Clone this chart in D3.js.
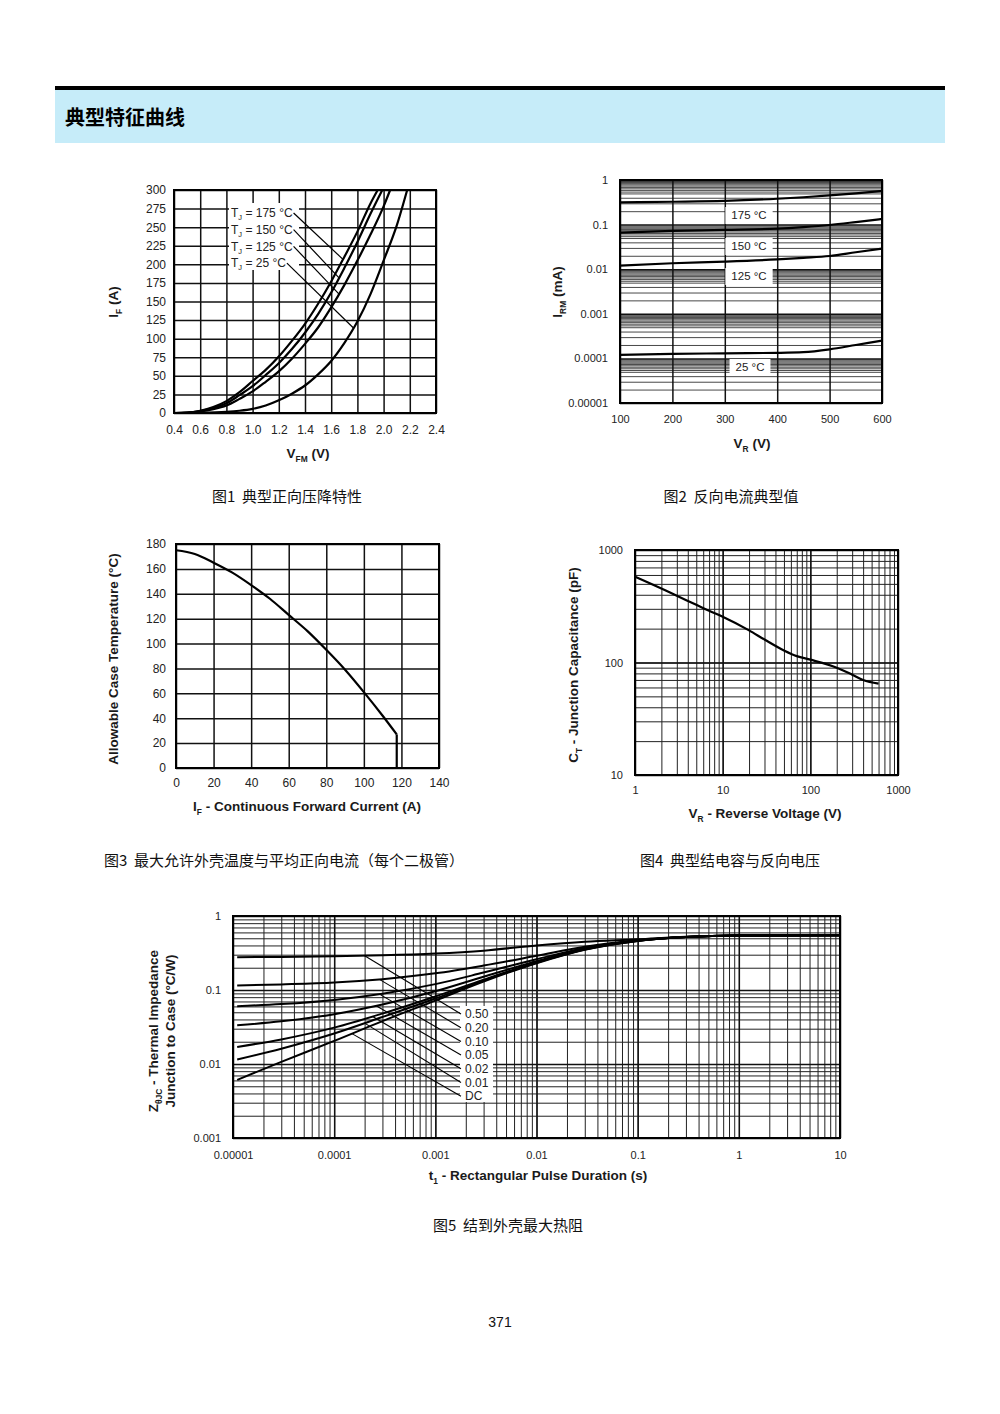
<!DOCTYPE html>
<html><head><meta charset="utf-8">
<script src="https://cdn.jsdelivr.net/npm/d3@7/dist/d3.min.js"></script>
<style>
html,body{margin:0;padding:0;background:#fff;}
svg{display:block;}
text{white-space:pre;}
</style></head><body>
<svg id="page" width="1000" height="1414"></svg>
<script>
// ===================== DATA =====================
// Fig.1  I_F vs V_FM
const fig1Labels = ["175 °C", "150 °C", "125 °C", "25 °C"];
const fig1V175 = [0.4,0.5,0.6,0.7,0.8,0.9,1.0,1.1,1.2,1.3,1.4,1.5,1.6,1.7,1.8,1.9,1.955];
const fig1I175 = [0,0.5,3,8,16,28,43,58,76,97,120,147,177,210,244,282,300];
const fig1V150 = [0.4,0.5,0.6,0.7,0.8,0.9,1.0,1.1,1.2,1.3,1.4,1.5,1.6,1.7,1.8,1.9,1.99];
const fig1I150 = [0,0.4,2.5,6.5,13,24,36,51,67,86,108,133,162,195,230,268,300];
const fig1V125 = [0.4,0.5,0.6,0.7,0.8,0.9,1.0,1.1,1.2,1.3,1.4,1.5,1.6,1.7,1.8,1.9,2.0,2.05];
const fig1I125 = [0,0.3,2,5,10,19,29,42,56,73,93,115,142,172,205,240,278,300];
const fig1V25  = [0.4,0.6,0.8,0.9,1.0,1.1,1.2,1.3,1.4,1.5,1.6,1.7,1.8,1.9,2.0,2.1,2.18];
const fig1I25  = [0,0.3,1.5,3,5.5,10,17,26,37,52,70,94,123,160,205,252,300];
const fig1LeaderV = [1.69, 1.66, 1.66, 1.77];
const fig1XTicks = [0.4,0.6,0.8,1.0,1.2,1.4,1.6,1.8,2.0,2.2,2.4];
const fig1XTickLabels = ["0.4","0.6","0.8","1.0","1.2","1.4","1.6","1.8","2.0","2.2","2.4"];
const fig1YTicks = [0,25,50,75,100,125,150,175,200,225,250,275,300];
const fig1YTickLabels = ["0","25","50","75","100","125","150","175","200","225","250","275","300"];

// Fig.2  I_RM vs V_R
const fig2Labels = ["175 °C", "150 °C", "125 °C", "25 °C"];
const fig2VR   = [100,200,300,400,450,500,550,600];
const fig2I175 = [0.315,0.325,0.34,0.38,0.41,0.45,0.5,0.57];
const fig2I150 = [0.066,0.072,0.076,0.081,0.088,0.098,0.114,0.134];
const fig2I125 = [0.012,0.0136,0.0148,0.0166,0.018,0.0198,0.024,0.029];
const fig2I25  = [1.2e-4,1.26e-4,1.3e-4,1.33e-4,1.38e-4,1.6e-4,2.0e-4,2.5e-4];
const fig2XTicks = [100,200,300,400,500,600];
const fig2XTickLabels = ["100","200","300","400","500","600"];
const fig2YTicks = [1e-5,1e-4,1e-3,1e-2,1e-1,1];
const fig2YTickLabels = ["0.00001","0.0001","0.001","0.01","0.1","1"];

// Fig.3  Allowable case temperature vs I_F
const fig3IF = [0,10,20,30,40,50,60,70,80,90,100,110,117.5];
const fig3TC = [175,172,165,157,147,136,123,110,95,79,61,42,27];
const fig3DropIF = [117.5,117.5];
const fig3DropTC = [27,0];
const fig3XTicks = [0,20,40,60,80,100,120,140];
const fig3XTickLabels = ["0","20","40","60","80","100","120","140"];
const fig3YTicks = [0,20,40,60,80,100,120,140,160,180];
const fig3YTickLabels = ["0","20","40","60","80","100","120","140","160","180"];

// Fig.4  C_T vs V_R
const fig4VR = [1,2,3,5,7,10,20,30,50,70,100,200,300,400,600];
const fig4CT = [580,455,392,326,288,255,193,160,128,114,106,90,78,70,65];
const fig4XTicks = [1,10,100,1000];
const fig4XTickLabels = ["1","10","100","1000"];
const fig4YTicks = [10,100,1000];
const fig4YTickLabels = ["10","100","1000"];

// Fig.5  Z_thJC vs t1
const fig5Labels = ["0.50","0.20","0.10","0.05","0.02","0.01","DC"];
const fig5T   = [1.1e-5,3e-5,1e-4,3e-4,1e-3,3e-3,1e-2,3e-2,0.1,0.3,1,10];
const fig5D50 = [0.278,0.28,0.285,0.294,0.311,0.34,0.40,0.45,0.485,0.525,0.545,0.55];
const fig5D20 = [0.115,0.119,0.126,0.14,0.168,0.214,0.29,0.385,0.47,0.522,0.545,0.55];
const fig5D10 = [0.0605,0.0646,0.0735,0.089,0.12,0.172,0.26,0.37,0.468,0.52,0.545,0.55];
const fig5D05 = [0.0333,0.0377,0.047,0.0636,0.096,0.151,0.245,0.36,0.465,0.52,0.545,0.55];
const fig5D02 = [0.017,0.0215,0.031,0.048,0.0816,0.138,0.236,0.354,0.462,0.52,0.545,0.55];
const fig5D01 = [0.0115,0.0161,0.0258,0.0431,0.0768,0.134,0.233,0.352,0.461,0.52,0.545,0.55];
const fig5DC  = [0.0061,0.0107,0.0205,0.038,0.072,0.13,0.23,0.35,0.46,0.52,0.545,0.55];
const fig5LeaderT = [2e-4,2.8e-4,2.8e-4,2.6e-4,2.4e-4,2e-4,1.5e-4];
const fig5XTicks = [1e-5,1e-4,1e-3,1e-2,1e-1,1,10];
const fig5XTickLabels = ["0.00001","0.0001","0.001","0.01","0.1","1","10"];
const fig5YTicks = [0.001,0.01,0.1,1];
const fig5YTickLabels = ["0.001","0.01","0.1","1"];

// ===================== DRAWING =====================
const FONT = '"Liberation Sans", Arial, Helvetica, sans-serif';
const CJK = '"Noto Sans CJK SC", "Noto Sans", sans-serif';
const TS = 13.5; // axis title size
const svg = d3.select("#page");
svg.append("rect").attr("width",1000).attr("height",1414).attr("fill","#fff");

// header
svg.append("rect").attr("x",55).attr("y",86).attr("width",890).attr("height",4).attr("fill","#000");
svg.append("rect").attr("x",55).attr("y",90).attr("width",890).attr("height",53).attr("fill","#c6ecf9");
svg.append("text").attr("x",65).attr("y",125).attr("font-family",CJK).attr("font-weight","bold")
  .attr("font-size",20).attr("fill","#000").text("典型特征曲线");

function gridLines(g,x,y,xVals,yVals,stroke,w){
  const [xa,xb]=x.range(), [yb,ya]=y.range();
  if(xVals) g.append("g").attr("transform",`translate(0,${ya})`)
    .call(d3.axisBottom(x).tickValues(xVals).tickSize(yb-ya).tickFormat(""))
    .call(s=>{s.select(".domain").remove(); s.selectAll("text").remove(); s.selectAll("line").attr("stroke",stroke).attr("stroke-width",w);});
  if(yVals) g.append("g").attr("transform",`translate(${xa},0)`)
    .call(d3.axisRight(y).tickValues(yVals).tickSize(xb-xa).tickFormat(""))
    .call(s=>{s.select(".domain").remove(); s.selectAll("text").remove(); s.selectAll("line").attr("stroke",stroke).attr("stroke-width",w);});
}
function frame(g,x,y){
  const [xa,xb]=x.range(), [yb,ya]=y.range();
  g.append("rect").attr("x",xa).attr("y",ya).attr("width",xb-xa).attr("height",yb-ya)
    .attr("fill","none").attr("stroke","#000").attr("stroke-width",2);
}
function tickLabels(g,x,y,xVals,xLab,yVals,yLab,xPad,yPad,fs){
  const [xa,xb]=x.range(), [yb,ya]=y.range();
  const ax=g.append("g").attr("transform",`translate(0,${yb})`)
    .call(d3.axisBottom(x).tickValues(xVals).tickFormat((d,i)=>xLab[i]).tickSize(0).tickPadding(xPad));
  const ay=g.append("g").attr("transform",`translate(${xa},0)`)
    .call(d3.axisLeft(y).tickValues(yVals).tickFormat((d,i)=>yLab[i]).tickSize(0).tickPadding(yPad));
  [ax,ay].forEach(a=>{a.select(".domain").remove(); a.attr("font-family",FONT).attr("font-size",fs||11);
    a.selectAll("text").attr("fill","#222");});
}
function curve(g,x,y,xs,ys,w,type){
  g.append("path").datum(xs.map((v,i)=>[v,ys[i]]))
    .attr("d",d3.line().x(d=>x(d[0])).y(d=>y(d[1])).curve(type||d3.curveMonotoneX))
    .attr("fill","none").attr("stroke","#000").attr("stroke-width",w||2.2).attr("stroke-linejoin","round");
}
function title(g,x,y,parts,rot,size){
  size=size||TS;
  const t=g.append("text").attr("x",x).attr("y",y).attr("text-anchor","middle")
    .attr("font-family",FONT).attr("font-weight","bold").attr("font-size",size).attr("fill","#1a1a1a");
  if(rot) t.attr("transform",`rotate(-90,${x},${y})`);
  let prevSub=false;
  parts.forEach(p=>{
    const s=t.append("tspan").text(p[0]);
    if(p[1]){ s.attr("dy",3.5).attr("font-size",size*0.62); prevSub=true; }
    else if(prevSub){ s.attr("dy",-3.5); prevSub=false; }
  });
  return t;
}
function interpLin(xs,ys,v){
  for(let i=1;i<xs.length;i++) if(v<=xs[i]){const f=(v-xs[i-1])/(xs[i]-xs[i-1]); return ys[i-1]+f*(ys[i]-ys[i-1]);}
  return ys[ys.length-1];
}
function interpLog(xs,ys,v){
  for(let i=1;i<xs.length;i++) if(v<=xs[i]){
    const f=(Math.log(v)-Math.log(xs[i-1]))/(Math.log(xs[i])-Math.log(xs[i-1]));
    return Math.exp(Math.log(ys[i-1])+f*(Math.log(ys[i])-Math.log(ys[i-1])));}
  return ys[ys.length-1];
}
function caption(x,y,txt,anchor){
  svg.append("text").attr("x",x).attr("y",y).attr("text-anchor",anchor||"middle")
    .attr("font-family",CJK).attr("font-size",15).attr("fill","#111").text(txt);
}

// ---------- Fig 1 ----------
{
  const g=svg.append("g");
  const x=d3.scaleLinear().domain([0.4,2.4]).range([174,436]);
  const y=d3.scaleLinear().domain([0,300]).range([413,190]);
  gridLines(g,x,y,fig1XTicks,fig1YTicks,"#111",1.5);
  g.append("rect").attr("x",229).attr("y",203).attr("width",70).attr("height",67).attr("fill","#fff");
  const curvesV=[fig1V175,fig1V150,fig1V125,fig1V25], curvesI=[fig1I175,fig1I150,fig1I125,fig1I25];
  curvesV.forEach((v,i)=>curve(g,x,y,v,curvesI[i],2.2));
  fig1Labels.forEach((lab,i)=>{
    const cy=213+i*16.7;
    const t=g.append("text").attr("x",231).attr("y",cy+4.3).attr("font-family",FONT).attr("font-size",12).attr("fill","#222");
    t.append("tspan").text("T");
    t.append("tspan").attr("dy",3).attr("font-size",7.5).text("J");
    t.append("tspan").attr("dy",-3).text(" = "+lab);
    const w=t.node().getComputedTextLength();
    const va=fig1LeaderV[i];
    g.append("line").attr("x1",231+w+1).attr("y1",cy).attr("x2",x(va)).attr("y2",y(interpLin(curvesV[i],curvesI[i],va)))
      .attr("stroke","#000").attr("stroke-width",1.2);
  });
  frame(g,x,y);
  tickLabels(g,x,y,fig1XTicks,fig1XTickLabels,fig1YTicks,fig1YTickLabels,12.5,8,12);
  title(g,308,458,[["V"],["FM",true],[" (V)"]]);
  title(g,118,302,[["I"],["F",true],[" (A)"]],true);
  caption(287,501.5,"图1\u00a0\u00a0典型正向压降特性");
}

// ---------- Fig 2 ----------
{
  const g=svg.append("g");
  const x=d3.scaleLinear().domain([100,600]).range([620,882]);
  const y=d3.scaleLog().domain([1e-5,1]).range([403,180]);
  const ks=[2,3,4,5,5.5,6,6.5,7,7.5,8,8.5,9,9.5];
  const dense=[]; for(let e=-5;e<0;e++) ks.forEach(k=>dense.push(k*Math.pow(10,e)));
  gridLines(g,x,y,null,dense,"#333",0.9);
  gridLines(g,x,y,fig2XTicks,fig2YTicks,"#111",1.5);
  const boxes=[[749,215],[749,246],[749,276],[750,367]];
  const curves=[fig2I175,fig2I150,fig2I125,fig2I25];
  fig2Labels.forEach((lab,i)=>{
    const [cx,cy]=boxes[i];
    const lg=g.append("g");
    const r=lg.append("rect").attr("fill","#fff");
    const t=lg.append("text").attr("x",cx).attr("y",cy+4).attr("text-anchor","middle")
      .attr("font-family",FONT).attr("font-size",11.5).attr("fill","#222").text(lab);
    const w=t.node().getComputedTextLength();
    r.attr("x",cx-w/2-6).attr("y",cy-8).attr("width",w+12).attr("height",17);
  });
  curves.forEach(c=>curve(g,x,y,fig2VR,c,2.2));
  frame(g,x,y);
  tickLabels(g,x,y,fig2XTicks,fig2XTickLabels,fig2YTicks,fig2YTickLabels,12,12,11);
  title(g,752,448,[["V"],["R",true],[" (V)"]]);
  title(g,562,292,[["I"],["RM",true],[" (mA)"]],true);
  caption(731,501.5,"图2\u00a0\u00a0反向电流典型值");
}

// ---------- Fig 3 ----------
{
  const g=svg.append("g");
  const x=d3.scaleLinear().domain([0,140]).range([176,439]);
  const y=d3.scaleLinear().domain([0,180]).range([768,544]);
  gridLines(g,x,y,fig3XTicks,fig3YTicks,"#111",1.5);
  curve(g,x,y,fig3IF,fig3TC,2.2);
  curve(g,x,y,fig3DropIF,fig3DropTC,2.2,d3.curveLinear);
  frame(g,x,y);
  tickLabels(g,x,y,fig3XTicks,fig3XTickLabels,fig3YTicks,fig3YTickLabels,10.5,10,12);
  title(g,307,811,[["I"],["F",true],[" - Continuous Forward Current (A)"]]);
  title(g,118,659,[["Allowable Case Temperature (°C)"]],true);
  caption(104,865.5,"图3\u00a0\u00a0最大允许外壳温度与平均正向电流（每个二极管）","start");
}

// ---------- Fig 4 ----------
{
  const g=svg.append("g");
  const x=d3.scaleLog().domain([1,1000]).range([635,898]);
  const y=d3.scaleLog().domain([10,1000]).range([775,550]);
  gridLines(g,x,y,x.ticks(),y.ticks(),"#222",1);
  gridLines(g,x,y,fig4XTicks,fig4YTicks,"#111",1.5);
  curve(g,x,y,fig4VR,fig4CT,2.2);
  frame(g,x,y);
  tickLabels(g,x,y,fig4XTicks,fig4XTickLabels,fig4YTicks,fig4YTickLabels,11,12,11);
  title(g,765,818,[["V"],["R",true],[" - Reverse Voltage (V)"]]);
  title(g,578,665,[["C"],["T",true],[" - Junction Capacitance (pF)"]],true);
  caption(730,865.5,"图4\u00a0\u00a0典型结电容与反向电压");
}

// ---------- Fig 5 ----------
{
  const g=svg.append("g");
  const x=d3.scaleLog().domain([1e-5,10]).range([233,840]);
  const y=d3.scaleLog().domain([0.001,1]).range([1138,916]);
  gridLines(g,x,y,x.ticks(),y.ticks(),"#222",1);
  gridLines(g,x,y,fig5XTicks,fig5YTicks,"#111",1.5);
  g.append("rect").attr("x",460).attr("y",1006).attr("width",33).attr("height",96).attr("fill","#fff");
  const series=[fig5D50,fig5D20,fig5D10,fig5D05,fig5D02,fig5D01,fig5DC];
  series.forEach(s=>curve(g,x,y,fig5T,s,2));
  fig5Labels.forEach((lab,i)=>{
    const cy=1014+i*13.7;
    g.append("text").attr("x",465).attr("y",cy+4.2).attr("font-family",FONT).attr("font-size",12).attr("fill","#222").text(lab);
    const ta=fig5LeaderT[i];
    g.append("line").attr("x1",x(ta)).attr("y1",y(interpLog(fig5T,series[i],ta))).attr("x2",461).attr("y2",cy)
      .attr("stroke","#000").attr("stroke-width",1.1);
  });
  frame(g,x,y);
  tickLabels(g,x,y,fig5XTicks,fig5XTickLabels,fig5YTicks,fig5YTickLabels,13,12,11);
  title(g,538,1180,[["t"],["1",true],[" - Rectangular Pulse Duration (s)"]]);
  title(g,158,1031,[["Z"],["θJC",true],[" - Thermal Impedance"]],true);
  title(g,175,1031,[["Junction to Case (°C/W)"]],true);
  caption(508,1230.5,"图5\u00a0\u00a0结到外壳最大热阻");
}

// page number
svg.append("text").attr("x",500).attr("y",1327).attr("text-anchor","middle").attr("font-family",FONT)
  .attr("font-size",14).attr("fill","#111").text("371");
</script>
</body></html>
